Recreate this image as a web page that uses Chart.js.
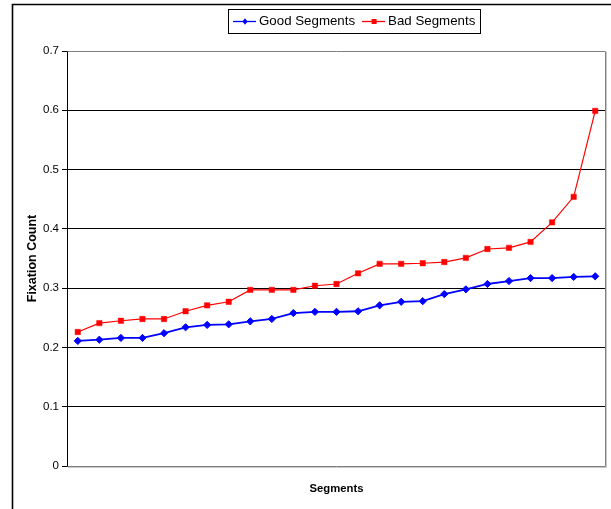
<!DOCTYPE html>
<html>
<head>
<meta charset="utf-8">
<script src="https://cdn.jsdelivr.net/npm/chart.js@4.4.1/dist/chart.umd.min.js"></script>
<style>
  html, body { margin: 0; padding: 0; background: #ffffff; }
  #c { display: block; }
</style>
</head>
<body>
<canvas id="c" width="611" height="509"></canvas>
<script>
const categories = ['1','2','3','4','5','6','7','8','9','10','11','12','13','14','15','16','17','18','19','20','21','22','23','24','25'];
const goodSegments = [0.211,0.213,0.216,0.216,0.224,0.234,0.238,0.239,0.244,0.248,0.258,0.260,0.260,0.261,0.271,0.277,0.278,0.290,0.298,0.307,0.312,0.317,0.317,0.319,0.320];
const badSegments = [0.226,0.241,0.245,0.248,0.248,0.261,0.271,0.277,0.297,0.297,0.297,0.304,0.307,0.325,0.341,0.341,0.342,0.344,0.351,0.366,0.368,0.378,0.411,0.454,0.599];
const yMin = 0, yMax = 0.7, yStep = 0.1;
const seriesNames = ['Good Segments', 'Bad Segments'];
const xTitle = 'Segments';
const yTitle = 'Fixation Count';

const FONT = "'Liberation Sans', Arial, sans-serif";

const framePlugin = {
  id: 'frame',
  beforeDatasetsDraw(chart) {
    const {ctx, chartArea: a} = chart;
    ctx.save();
    // plot area border (grey) top, right, bottom
    ctx.strokeStyle = '#808080';
    ctx.lineWidth = 1;
    ctx.beginPath();
    ctx.moveTo(Math.round(a.left) + 0.5, Math.round(a.top) + 0.5);
    ctx.lineTo(Math.round(a.right) - 0.5, Math.round(a.top) + 0.5);
    ctx.lineTo(Math.round(a.right) - 0.5, Math.round(a.bottom) + 0.5);
    ctx.lineTo(Math.round(a.left) + 0.5, Math.round(a.bottom) + 0.5);
    ctx.stroke();
    ctx.strokeStyle = '#c8c8c8';
    ctx.beginPath();
    ctx.moveTo(Math.round(a.right) + 0.5, Math.round(a.top) + 1);
    ctx.lineTo(Math.round(a.right) + 0.5, Math.round(a.bottom) + 1.5);
    ctx.lineTo(Math.round(a.left) + 1, Math.round(a.bottom) + 1.5);
    ctx.stroke();
    ctx.restore();
  },
  afterDraw(chart) {
    const {ctx} = chart;
    ctx.save();
    // outer chart border
    ctx.strokeStyle = '#000';
    ctx.lineWidth = 1.6;
    ctx.beginPath();
    ctx.moveTo(12.5, 520);
    ctx.lineTo(12.5, 4.5);
    ctx.lineTo(620, 4.5);
    ctx.stroke();

    // legend box
    ctx.lineWidth = 1;
    ctx.strokeStyle = '#000';
    ctx.strokeRect(228.5, 9.5, 252, 24);
    ctx.font = '13.3px ' + FONT;
    ctx.textBaseline = 'middle';
    ctx.textAlign = 'left';
    let x = 233;
    const y = 21.5;
    chart.data.datasets.forEach(ds => {
      ctx.strokeStyle = ds.borderColor;
      ctx.lineWidth = 1.3;
      ctx.beginPath();
      ctx.moveTo(x, y);
      ctx.lineTo(x + 23, y);
      ctx.stroke();
      ctx.fillStyle = ds.backgroundColor;
      const cx = x + 12;
      ctx.beginPath();
      if (ds.pointStyle === 'rectRot') {
        ctx.moveTo(cx, y - 3.2);
        ctx.lineTo(cx + 2.6, y);
        ctx.lineTo(cx, y + 3.2);
        ctx.lineTo(cx - 2.6, y);
        ctx.closePath();
      } else {
        ctx.rect(cx - 2.5, y - 2.5, 5, 5);
      }
      ctx.fill();
      ctx.fillStyle = '#000';
      ctx.fillText(ds.label, x + 26, y);
      x = x + 26 + ctx.measureText(ds.label).width + 7;
    });
    ctx.restore();
  }
};

new Chart(document.getElementById('c'), {
  type: 'line',
  data: {
    labels: categories,
    datasets: [
      {
        label: seriesNames[0],
        data: goodSegments,
        borderColor: '#0000ff',
        backgroundColor: '#0000ff',
        borderWidth: 1.8,
        pointStyle: 'rectRot',
        pointRadius: 3.6,
        pointBorderWidth: 1,
        tension: 0,
        fill: false
      },
      {
        label: seriesNames[1],
        data: badSegments,
        borderColor: '#ff0000',
        backgroundColor: '#ff0000',
        borderWidth: 1.2,
        pointStyle: 'rect',
        pointRadius: 3.8,
        pointBorderWidth: 0.5,
        tension: 0,
        fill: false
      }
    ]
  },
  options: {
    responsive: false,
    animation: false,
    devicePixelRatio: 1,
    layout: { padding: { left: 20, top: 51, right: 5, bottom: 13 } },
    plugins: {
      legend: { display: false },
      tooltip: { enabled: false }
    },
    scales: {
      x: {
        type: 'category',
        offset: true,
        grid: { display: false },
        border: { display: false },
        ticks: { display: false },
        title: {
          display: true,
          text: xTitle,
          color: '#000',
          font: { family: FONT, size: 11.3, weight: 'bold' },
          padding: { top: 0, bottom: 0 }
        },
        afterFit(scale) { scale.height = 30; }
      },
      y: {
        min: yMin,
        max: yMax,
        ticks: {
          stepSize: yStep,
          color: '#000',
          padding: 3,
          font: { family: FONT, size: 11.5 },
          callback: v => (Math.abs(v) < 1e-9 ? '0' : Number(v).toFixed(1))
        },
        grid: {
          color: ctx => (ctx.tick && (Math.abs(ctx.tick.value) < 1e-9 || ctx.tick.value > 0.69)) ? 'rgba(0,0,0,0)' : '#000',
          tickColor: '#000',
          tickLength: 5,
          lineWidth: 1,
          drawTicks: true
        },
        border: { display: true, color: '#000', width: 1 },
        title: {
          display: true,
          text: yTitle,
          color: '#000',
          font: { family: FONT, size: 12.5, weight: 'bold' },
          padding: { top: 5, bottom: 0 }
        },
        afterFit(scale) { scale.width = 47; }
      }
    }
  },
  plugins: [framePlugin]
});
</script>
</body>
</html>
